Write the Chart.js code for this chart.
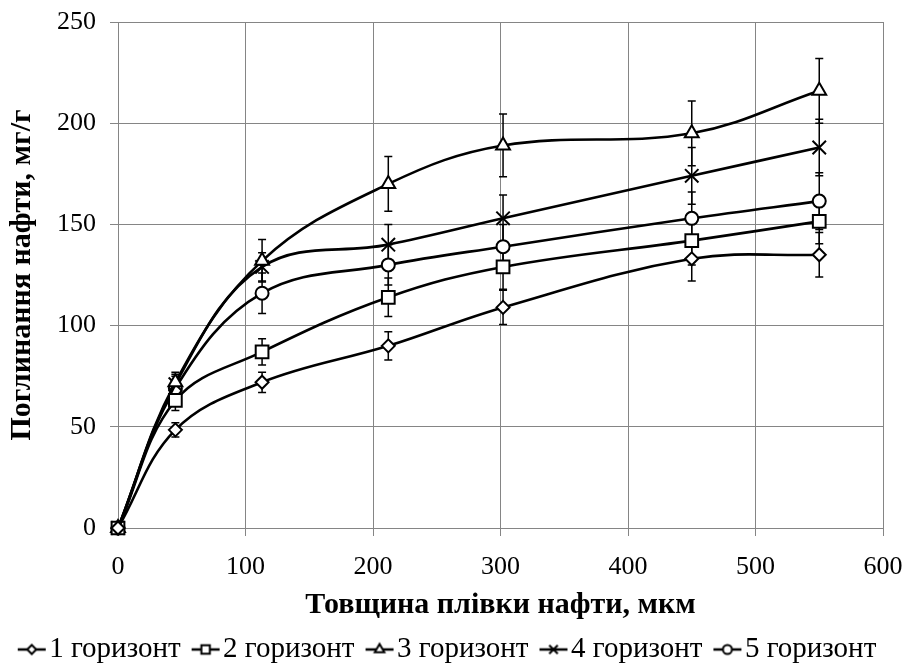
<!DOCTYPE html>
<html>
<head>
<meta charset="utf-8">
<script src="https://cdn.jsdelivr.net/npm/chart.js@4/dist/chart.umd.min.js"></script>
<style>
  html, body { margin: 0; padding: 0; background: #fff; }
  #wrap { width: 905px; height: 668px; }
</style>
</head>
<body>
<div id="wrap"><canvas id="oilChart" width="905" height="668"></canvas></div>
<script>
// film thickness, um
var thickness = [0, 45, 113, 212, 302, 450, 550];

// oil uptake, mg/g, one array per horizon
var horizon1 = [0, 48.5, 72, 90, 109, 133, 135];
var horizon2 = [0, 63, 87, 114, 129, 142, 151.5];
var horizon3 = [0, 72, 132, 170, 189, 195, 216];
var horizon4 = [0, 71, 129, 140, 153, 174, 188];
var horizon5 = [0, 69, 116, 130, 139, 153, 161.5];

// error bar half-heights
var err1 = [0, 3.5, 5, 7, 8.5, 11, 11];
var err2 = [0, 5, 6.5, 9.5, 11, 12, 11];
var err3 = [0, 5, 10.5, 13.5, 15.5, 16, 16];
var err4 = [0, 5, 7, 10, 11.5, 14, 14];
var err5 = [0, 6, 10, 10, 11, 13, 14];

var seriesNames = ["1 горизонт", "2 горизонт", "3 горизонт", "4 горизонт", "5 горизонт"];
var xTicks = [0, 100, 200, 300, 400, 500, 600];
var yTicks = [0, 50, 100, 150, 200, 250];

var FONT = "'Liberation Serif', 'Times New Roman', serif";

function toPoints(values) {
  return values.map(function (v, i) { return { x: thickness[i], y: v }; });
}

// marker look per series
var markers = [
  { style: "rectRot", radius: 6.5, legendRadius: 4.5 },
  { style: "rect", radius: 9, legendRadius: 6 },
  { style: "triangle", radius: 8, legendRadius: 5.5 },
  { style: "crossRot", radius: 9.5, legendRadius: 6 },
  { style: "circle", radius: 6.5, legendRadius: 4.5 }
];

// legend icon: short line with marker in the middle
function makeLegendIcon(m) {
  var c = document.createElement("canvas");
  c.width = 30; c.height = 20;
  var g = c.getContext("2d");
  g.strokeStyle = "#000";
  g.lineWidth = 2.5;
  g.beginPath(); g.moveTo(1, 10); g.lineTo(29, 10); g.stroke();
  g.fillStyle = "#fff";
  g.lineWidth = 2;
  Chart.helpers.drawPoint(g, { pointStyle: m.style, radius: m.legendRadius, rotation: 0, borderWidth: 2 }, 15, 10);
  return c;
}

var allValues = [horizon1, horizon2, horizon3, horizon4, horizon5];
var allErrors = [err1, err2, err3, err4, err5];

var datasets = allValues.map(function (vals, i) {
  return {
    label: seriesNames[i],
    data: toPoints(vals),
    errors: allErrors[i],
    clip: false,
    borderColor: "#000",
    borderWidth: 2.6,
    tension: 0.38,
    pointStyle: markers[i].style,
    pointRadius: markers[i].radius,
    pointHoverRadius: markers[i].radius,
    pointBackgroundColor: "#fff",
    pointBorderColor: "#000",
    pointBorderWidth: 2
  };
});

// vertical error bars with caps, drawn under the lines and markers
var errorBars = {
  id: "errorBars",
  beforeDatasetsDraw: function (chart) {
    var ctx = chart.ctx, xs = chart.scales.x, ys = chart.scales.y;
    ctx.save();
    ctx.strokeStyle = "#000";
    ctx.lineWidth = 1.5;
    chart.data.datasets.forEach(function (ds) {
      ds.data.forEach(function (p, i) {
        var e = ds.errors[i];
        if (!e) return;
        var px = xs.getPixelForValue(p.x);
        var top = ys.getPixelForValue(p.y + e);
        var bot = ys.getPixelForValue(p.y - e);
        ctx.beginPath();
        ctx.moveTo(px, top); ctx.lineTo(px, bot);
        ctx.moveTo(px - 4, top); ctx.lineTo(px + 4, top);
        ctx.moveTo(px - 4, bot); ctx.lineTo(px + 4, bot);
        ctx.stroke();
      });
    });
    ctx.restore();
  }
};

new Chart(document.getElementById("oilChart"), {
  type: "line",
  data: { datasets: datasets },
  plugins: [errorBars],
  options: {
    responsive: false,
    animation: false,
    devicePixelRatio: 1,
    layout: { padding: { top: 0, right: 0, bottom: -6, left: 0 } },
    scales: {
      x: {
        type: "linear",
        min: 0, max: 600,
        afterBuildTicks: function (s) { s.ticks = xTicks.map(function (v) { return { value: v }; }); },
        afterFit: function (s) { s.height = 85; s.paddingRight = 22; },
        grid: { color: "#858585", lineWidth: 1, tickLength: 8, drawTicks: true },
        border: { color: "#858585" },
        ticks: { color: "#000", padding: 16, font: { family: FONT, size: 26 } },
        title: {
          display: true, text: "Товщина плівки нафти, мкм", color: "#000",
          padding: { top: 0, bottom: -10 },
          font: { family: FONT, size: 30, weight: "bold" }
        }
      },
      y: {
        min: 0, max: 250,
        afterBuildTicks: function (s) { s.ticks = yTicks.map(function (v) { return { value: v }; }); },
        afterFit: function (s) { s.width = 118; s.paddingTop = 22; s.paddingBottom = 0; },
        grid: { color: "#858585", lineWidth: 1, tickLength: 8 },
        border: { color: "#858585" },
        ticks: { color: "#000", padding: 14, font: { family: FONT, size: 26 } },
        title: {
          display: true, text: "Поглинання нафти, мг/г", color: "#000",
          padding: { top: 4, bottom: 0 },
          font: { family: FONT, size: 30, weight: "bold" }
        }
      }
    },
    plugins: {
      tooltip: { enabled: false },
      legend: {
        position: "bottom",
        labels: {
          color: "#000",
          usePointStyle: true,
          pointStyleWidth: 6,
          padding: 22,
          font: { family: FONT, size: 29 },
          generateLabels: function (chart) {
            var items = Chart.defaults.plugins.legend.labels.generateLabels(chart);
            items.forEach(function (it, i) { it.pointStyle = makeLegendIcon(markers[i]); });
            return items;
          }
        }
      }
    }
  }
});
</script>
</body>
</html>
